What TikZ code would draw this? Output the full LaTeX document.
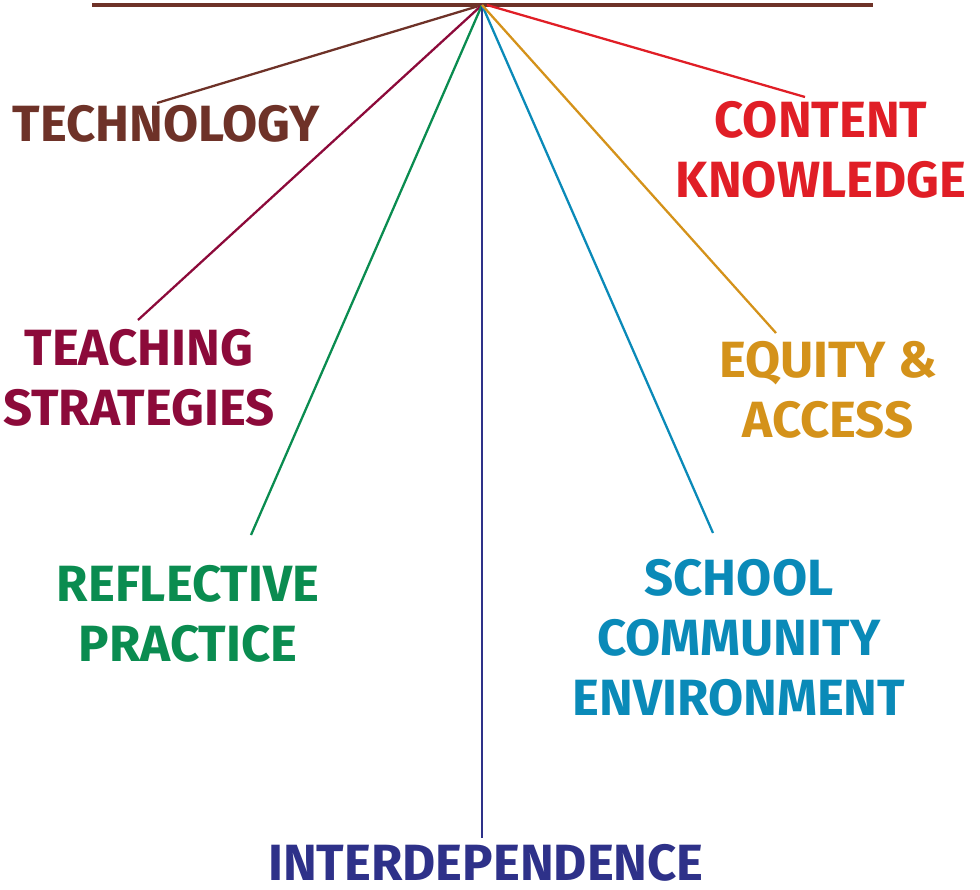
\documentclass[tikz,border=0pt]{standalone}
\usepackage{fontspec}
\setmainfont{Fira Sans}
\usepackage{tikz}
\usepackage{xcolor}
\definecolor{techbrown}  {RGB}{110, 50, 40}
\definecolor{teachred}   {RGB}{140, 10, 58}
\definecolor{reflgreen}  {RGB}{ 10,140, 80}
\definecolor{interblue}  {RGB}{ 46, 49,137}
\definecolor{schoolteal} {RGB}{ 10,138,184}
\definecolor{equitygold} {RGB}{212,146, 26}
\definecolor{contentred} {RGB}{224, 30, 38}

\begin{document}
\begin{tikzpicture}[
  x=0.02cm,y=-0.02cm,
  every node/.style={font=\fontsize{29}{34}\selectfont\bfseries,align=center,inner sep=0pt},
  spoke/.style={line width=1.3pt},
]
\useasboundingbox (0,0) rectangle (980,889);

%% Hub and top bar
\coordinate (hub) at (482,5);
\draw[techbrown,line width=2.3pt] (92,5) -- (873,5);

%% Spoke ends
\coordinate (eTech)   at (157,103);
\coordinate (eTeach)  at (138,320);
\coordinate (eRefl)   at (251,535);
\coordinate (eInter)  at (482,838);
\coordinate (eSchool) at (713,533);
\coordinate (eEquity) at (776,333);
\coordinate (eCont)   at (805,97);

%% Spokes
\draw[spoke,techbrown]  (hub) -- (eTech);
\draw[spoke,teachred]   (hub) -- (eTeach);
\draw[spoke,reflgreen]  (hub) -- (eRefl);
\draw[spoke,interblue]  (hub) -- (eInter);
\draw[spoke,schoolteal] (hub) -- (eSchool);
\draw[spoke,equitygold] (hub) -- (eEquity);
\draw[spoke,contentred] (487,5) -- (eCont);

%% Labels
\node[text=techbrown]  (tech)   at (166,124) {TECHNOLOGY};
\node[text=contentred] (cont)   at (821,150) {CONTENT\\KNOWLEDGE};
\node[text=teachred]   (teach)  at (139,378) {TEACHING\\STRATEGIES};
\node[text=equitygold] (equity) at (828,390) {EQUITY \&\\ACCESS};
\node[text=reflgreen]  (refl)   at (188,614) {REFLECTIVE\\PRACTICE};
\node[text=schoolteal] (school) at (739,638) {SCHOOL\\COMMUNITY\\ENVIRONMENT};
\node[text=interblue,align=none,anchor=base] (inter) at (486,880) {INTERDEPENDENCE};

\end{tikzpicture}
\end{document}
